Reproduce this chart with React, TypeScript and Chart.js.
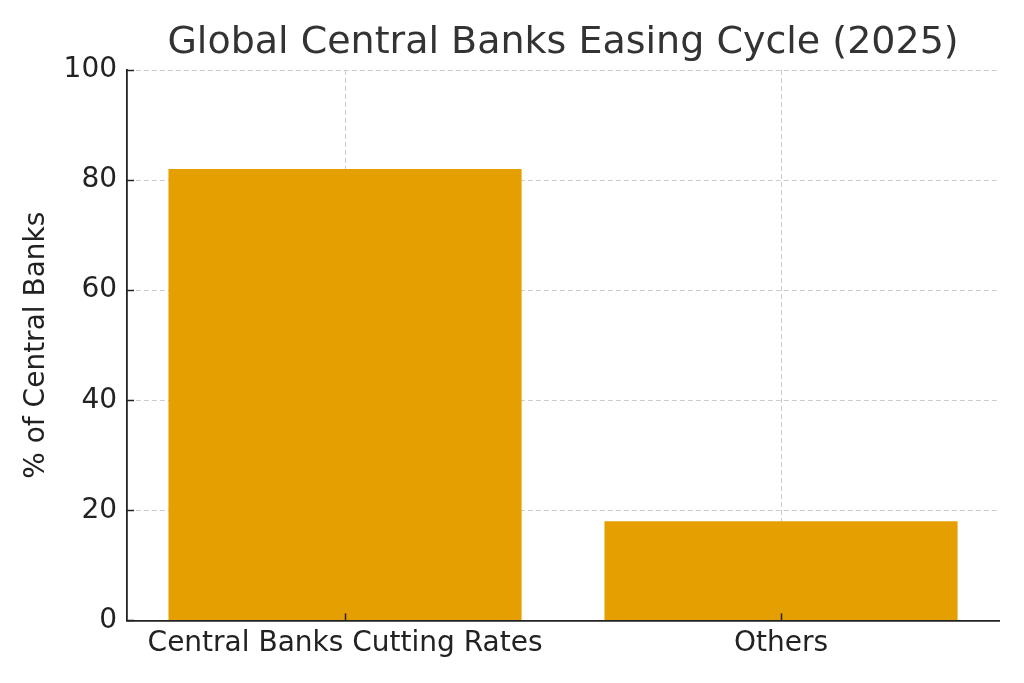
import React, { useEffect, useRef } from "react";
import { Chart, registerables } from "chart.js";

Chart.register(...registerables);

const categories = ["Central Banks Cutting Rates", "Others"];
const values = [82, 18];
const yTicks = [0, 20, 40, 60, 80, 100];
const titleText = "Global Central Banks Easing Cycle (2025)";

const FONT = "'DejaVu Sans', sans-serif";

const inwardTicks = {
  id: "inwardTicks",
  afterDraw(chart: any) {
    const { ctx, chartArea, scales } = chart;
    ctx.save();
    ctx.strokeStyle = "#222";
    ctx.lineWidth = 1.5;
    const len = 7;
    scales.x.ticks.forEach((_t: any, i: number) => {
      const px = Math.round(scales.x.getPixelForTick(i)) + 0.5;
      ctx.beginPath();
      ctx.moveTo(px, chartArea.bottom);
      ctx.lineTo(px, chartArea.bottom - len);
      ctx.stroke();
    });
    scales.y.ticks.forEach((t: any) => {
      const py = Math.round(scales.y.getPixelForValue(t.value)) + 0.5;
      ctx.beginPath();
      ctx.moveTo(chartArea.left, py);
      ctx.lineTo(chartArea.left + len, py);
      ctx.stroke();
    });
    ctx.restore();
  },
};

const axesTitle = {
  id: "axesTitle",
  afterDraw(chart: any) {
    const { ctx, chartArea } = chart;
    ctx.save();
    ctx.fillStyle = "#333";
    ctx.font = `normal 38px ${FONT}`;
    ctx.textAlign = "center";
    ctx.textBaseline = "middle";
    ctx.fillText(titleText, (chartArea.left + chartArea.right) / 2, chartArea.top - 27);
    ctx.restore();
  },
};

export default function App() {
  const ref = useRef<HTMLCanvasElement>(null);
  useEffect(() => {
    if (!ref.current) return;
    const chart = new Chart(ref.current, {
      type: "bar",
      data: {
        labels: categories,
        datasets: [
          {
            data: values,
            backgroundColor: "#E69F00",
            borderWidth: 0,
            barPercentage: 0.81,
            categoryPercentage: 1,
          },
        ],
      },
      options: {
        animation: false,
        responsive: true,
        maintainAspectRatio: false,
        layout: { padding: { top: 70, left: 20, right: 25, bottom: 15 } },
        plugins: {
          legend: { display: false },
          tooltip: { enabled: false },
          title: { display: false },
        },
        scales: {
          x: {
            z: 1,
            ticks: {
              color: "#222",
              font: { family: FONT, size: 28 },
              padding: 7,
              maxRotation: 0,
              autoSkip: false,
            },
            grid: {
              color: "#cccccc",
              lineWidth: 1,
              offset: false,
              drawTicks: false,
              tickLength: 0,
            },
            border: { display: true, color: "#222", width: 1.8, dash: [5, 3] },
          },
          y: {
            min: 0,
            max: 100,
            z: 1,
            afterBuildTicks: (scale: any) => {
              scale.ticks = yTicks.map((v) => ({ value: v }));
            },
            ticks: {
              color: "#222",
              font: { family: FONT, size: 28 },
              padding: 10,
            },
            grid: {
              color: "#cccccc",
              lineWidth: 1,
              drawTicks: false,
              tickLength: 0,
            },
            border: { display: true, color: "#222", width: 1.8, dash: [5, 3] },
            title: {
              display: true,
              text: "% of Central Banks",
              color: "#222",
              font: { family: FONT, size: 28 },
              padding: { top: 0, bottom: 0 },
            },
          },
        },
      },
      plugins: [inwardTicks, axesTitle],
    } as any);
    return () => chart.destroy();
  }, []);
  return (
    <div style={{ position: "fixed", left: 0, top: 0, width: 1024, height: 683, background: "#fff" }}>
      <canvas ref={ref} />
    </div>
  );
}
